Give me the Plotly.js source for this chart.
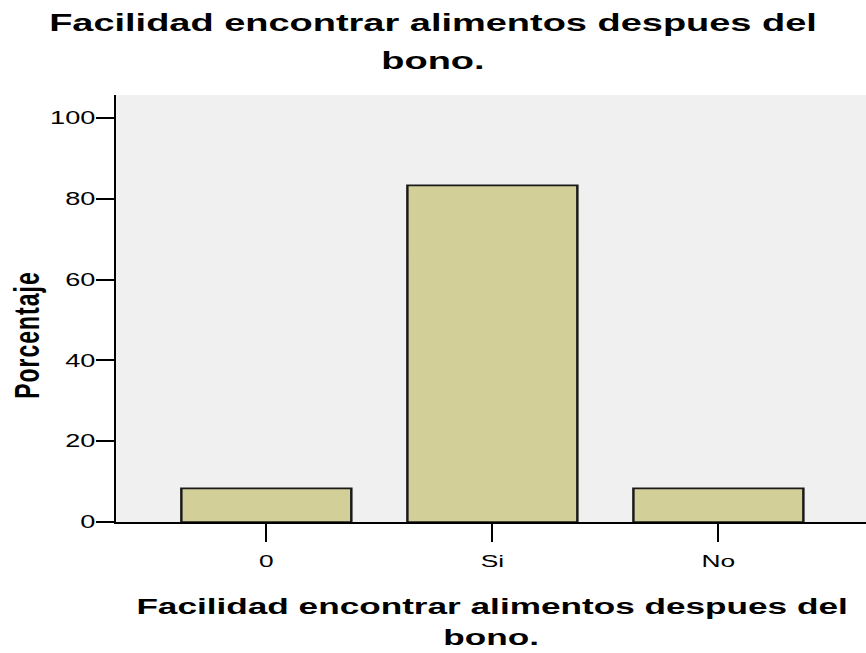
<!DOCTYPE html>
<html>
<head>
<meta charset="utf-8">
<script src="https://cdn.plot.ly/plotly-3.0.1.min.js"></script>
<style>
  html, body { margin: 0; padding: 0; background: #ffffff; overflow: hidden; }
  #wrap { width: 866px; height: 653px; overflow: hidden; }
  #chart { width: 558.7px; height: 653px; transform: scaleX(1.55); transform-origin: 0 0; }
</style>
</head>
<body>
<div id="wrap"><div id="chart"></div></div>
<script>
// Data
var categories = ['0', 'Si', 'No'];
var percentages = [8.33, 83.33, 8.33];
var yTickValues = [0, 20, 40, 60, 80, 100];
var titleLines = ['Facilidad encontrar alimentos despues del', 'bono.'];
var xTitleLines = ['Facilidad encontrar alimentos despues del', 'bono.'];
var yTitle = 'Porcentaje';

var S = 1.55; // horizontal stretch of the reference picture
var font = 'Liberation Sans, Arial, sans-serif';
var W = 866 / S, ML = 116 / S;
var pageCenterPaper = (W / 2 - ML) / (W - ML);

var trace = {
  type: 'bar',
  x: categories,
  y: percentages,
  width: 0.752,
  marker: { color: '#d3cf98', line: { color: '#1a1a1a', width: 1.6 } },
  hoverinfo: 'x+y'
};

function ann(text, x, y, size, angle) {
  var a = {
    text: text, x: x, y: y, xref: 'paper', yref: 'paper',
    xanchor: 'center', yanchor: 'middle', showarrow: false,
    font: { family: font, size: size, color: '#000000' }
  };
  if (angle) a.textangle = angle;
  return a;
}

var layout = {
  width: W,
  height: 653,
  margin: { l: ML, r: 0, t: 95, b: 131, pad: 0 },
  paper_bgcolor: '#ffffff',
  plot_bgcolor: '#f0f0f0',
  showlegend: false,
  font: { family: font, color: '#000000' },
  title: {
    text: '<b>' + titleLines[0] + '</b>',
    font: { family: font, size: 24.5, color: '#000000' },
    x: 0.5, xanchor: 'center', xref: 'container',
    y: 0.966, yanchor: 'middle', yref: 'container'
  },
  annotations: [
    ann('<b>' + titleLines[1] + '</b>', pageCenterPaper, 1.081, 24.5),
    ann('<b>' + xTitleLines[0] + '</b>', 0.5, -0.197, 22.7),
    ann('<b>' + xTitleLines[1] + '</b>', 0.5, -0.27, 22.7),
    ann('<span style="letter-spacing:1px"><b>' + yTitle + '</b></span>', -0.12, 0.438, 23, -90)
  ],
  xaxis: {
    type: 'category',
    range: [-0.664, 2.655],
    showgrid: false,
    zeroline: false,
    showline: true,
    linecolor: '#000000',
    linewidth: 2,
    ticks: 'outside',
    ticklen: 18,
    tickwidth: 1.4,
    tickcolor: '#000000',
    ticklabelstandoff: 5,
    tickfont: { family: font, size: 17, color: '#000000' },
    fixedrange: true
  },
  yaxis: {
    range: [0, 105.7],
    tickvals: yTickValues,
    ticktext: yTickValues.map(String),
    showgrid: false,
    zeroline: false,
    showline: true,
    linecolor: '#000000',
    linewidth: 1.4,
    ticks: 'outside',
    ticklen: 18 / S,
    tickwidth: 2,
    tickcolor: '#000000',
    ticklabelstandoff: -3,
    tickfont: { family: font, size: 17.5, color: '#000000' },
    fixedrange: true
  }
};

Plotly.newPlot('chart', [trace], layout, { displayModeBar: false, staticPlot: true });
</script>
</body>
</html>
